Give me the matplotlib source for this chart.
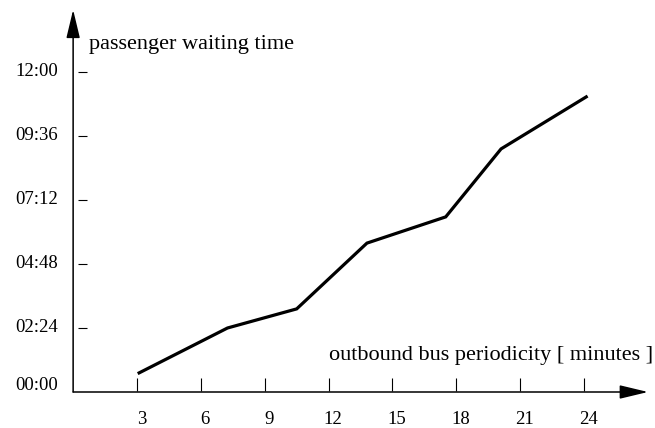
import matplotlib
matplotlib.use("Agg")
import matplotlib.pyplot as plt

# data: bus periodicity [minutes] vs passenger waiting time [minutes]
periodicity = [3.1, 7.25, 10.5, 13.8, 17.5, 20.1, 24.1]
waiting_min = [43, 144, 187, 335, 394, 547, 664]

x_ticks = [3, 6, 9, 12, 15, 18, 21, 24]
y_ticks = [0, 144, 288, 432, 576, 720]
y_tick_labels = ["00:00", "02:24", "04:48", "07:12", "09:36", "12:00"]

plt.rcParams["font.family"] = ["Liberation Serif", "DejaVu Serif"]

fig = plt.figure(figsize=(6.55, 4.28), dpi=100)
ax = fig.add_axes([0, 0, 1, 1])
ax.set_xlim(-3.435, 27.33)
ax.set_ylim(-81, 882)
ax.axis("off")

# axes with arrows
arrow = dict(arrowstyle="-|>,head_length=1.75,head_width=0.42",
             mutation_scale=10, color="black", lw=1.1, shrinkA=0, shrinkB=0)
ax.annotate("", xy=(27.0, 0), xytext=(0, 0), arrowprops=arrow)
ax.annotate("", xy=(0, 860), xytext=(0, 0), arrowprops=arrow)

# ticks
ax.vlines(x_ticks, 2, 31, color="black", lw=0.8)
ax.hlines(y_ticks[1:], 0.22, 0.63, color="black", lw=0.8)

for t in x_ticks:
    ax.text(t + 0.2, -62, str(t), ha="center", va="center", fontsize=13.5)
for v, lab in zip(y_ticks, y_tick_labels):
    yy = v + 14 if v == 0 else v
    ax.text(-0.7, yy, lab, ha="right", va="center", fontsize=13.5)

ax.text(0.75, 783, "passenger waiting time", ha="left", va="center", fontsize=16)
ax.text(12.0, 83, "outbound bus periodicity [ minutes ]", ha="left", va="center", fontsize=16)

ax.plot(periodicity, waiting_min, color="black", lw=2.3, solid_joinstyle="miter")

fig.savefig("out.png", dpi=100)
